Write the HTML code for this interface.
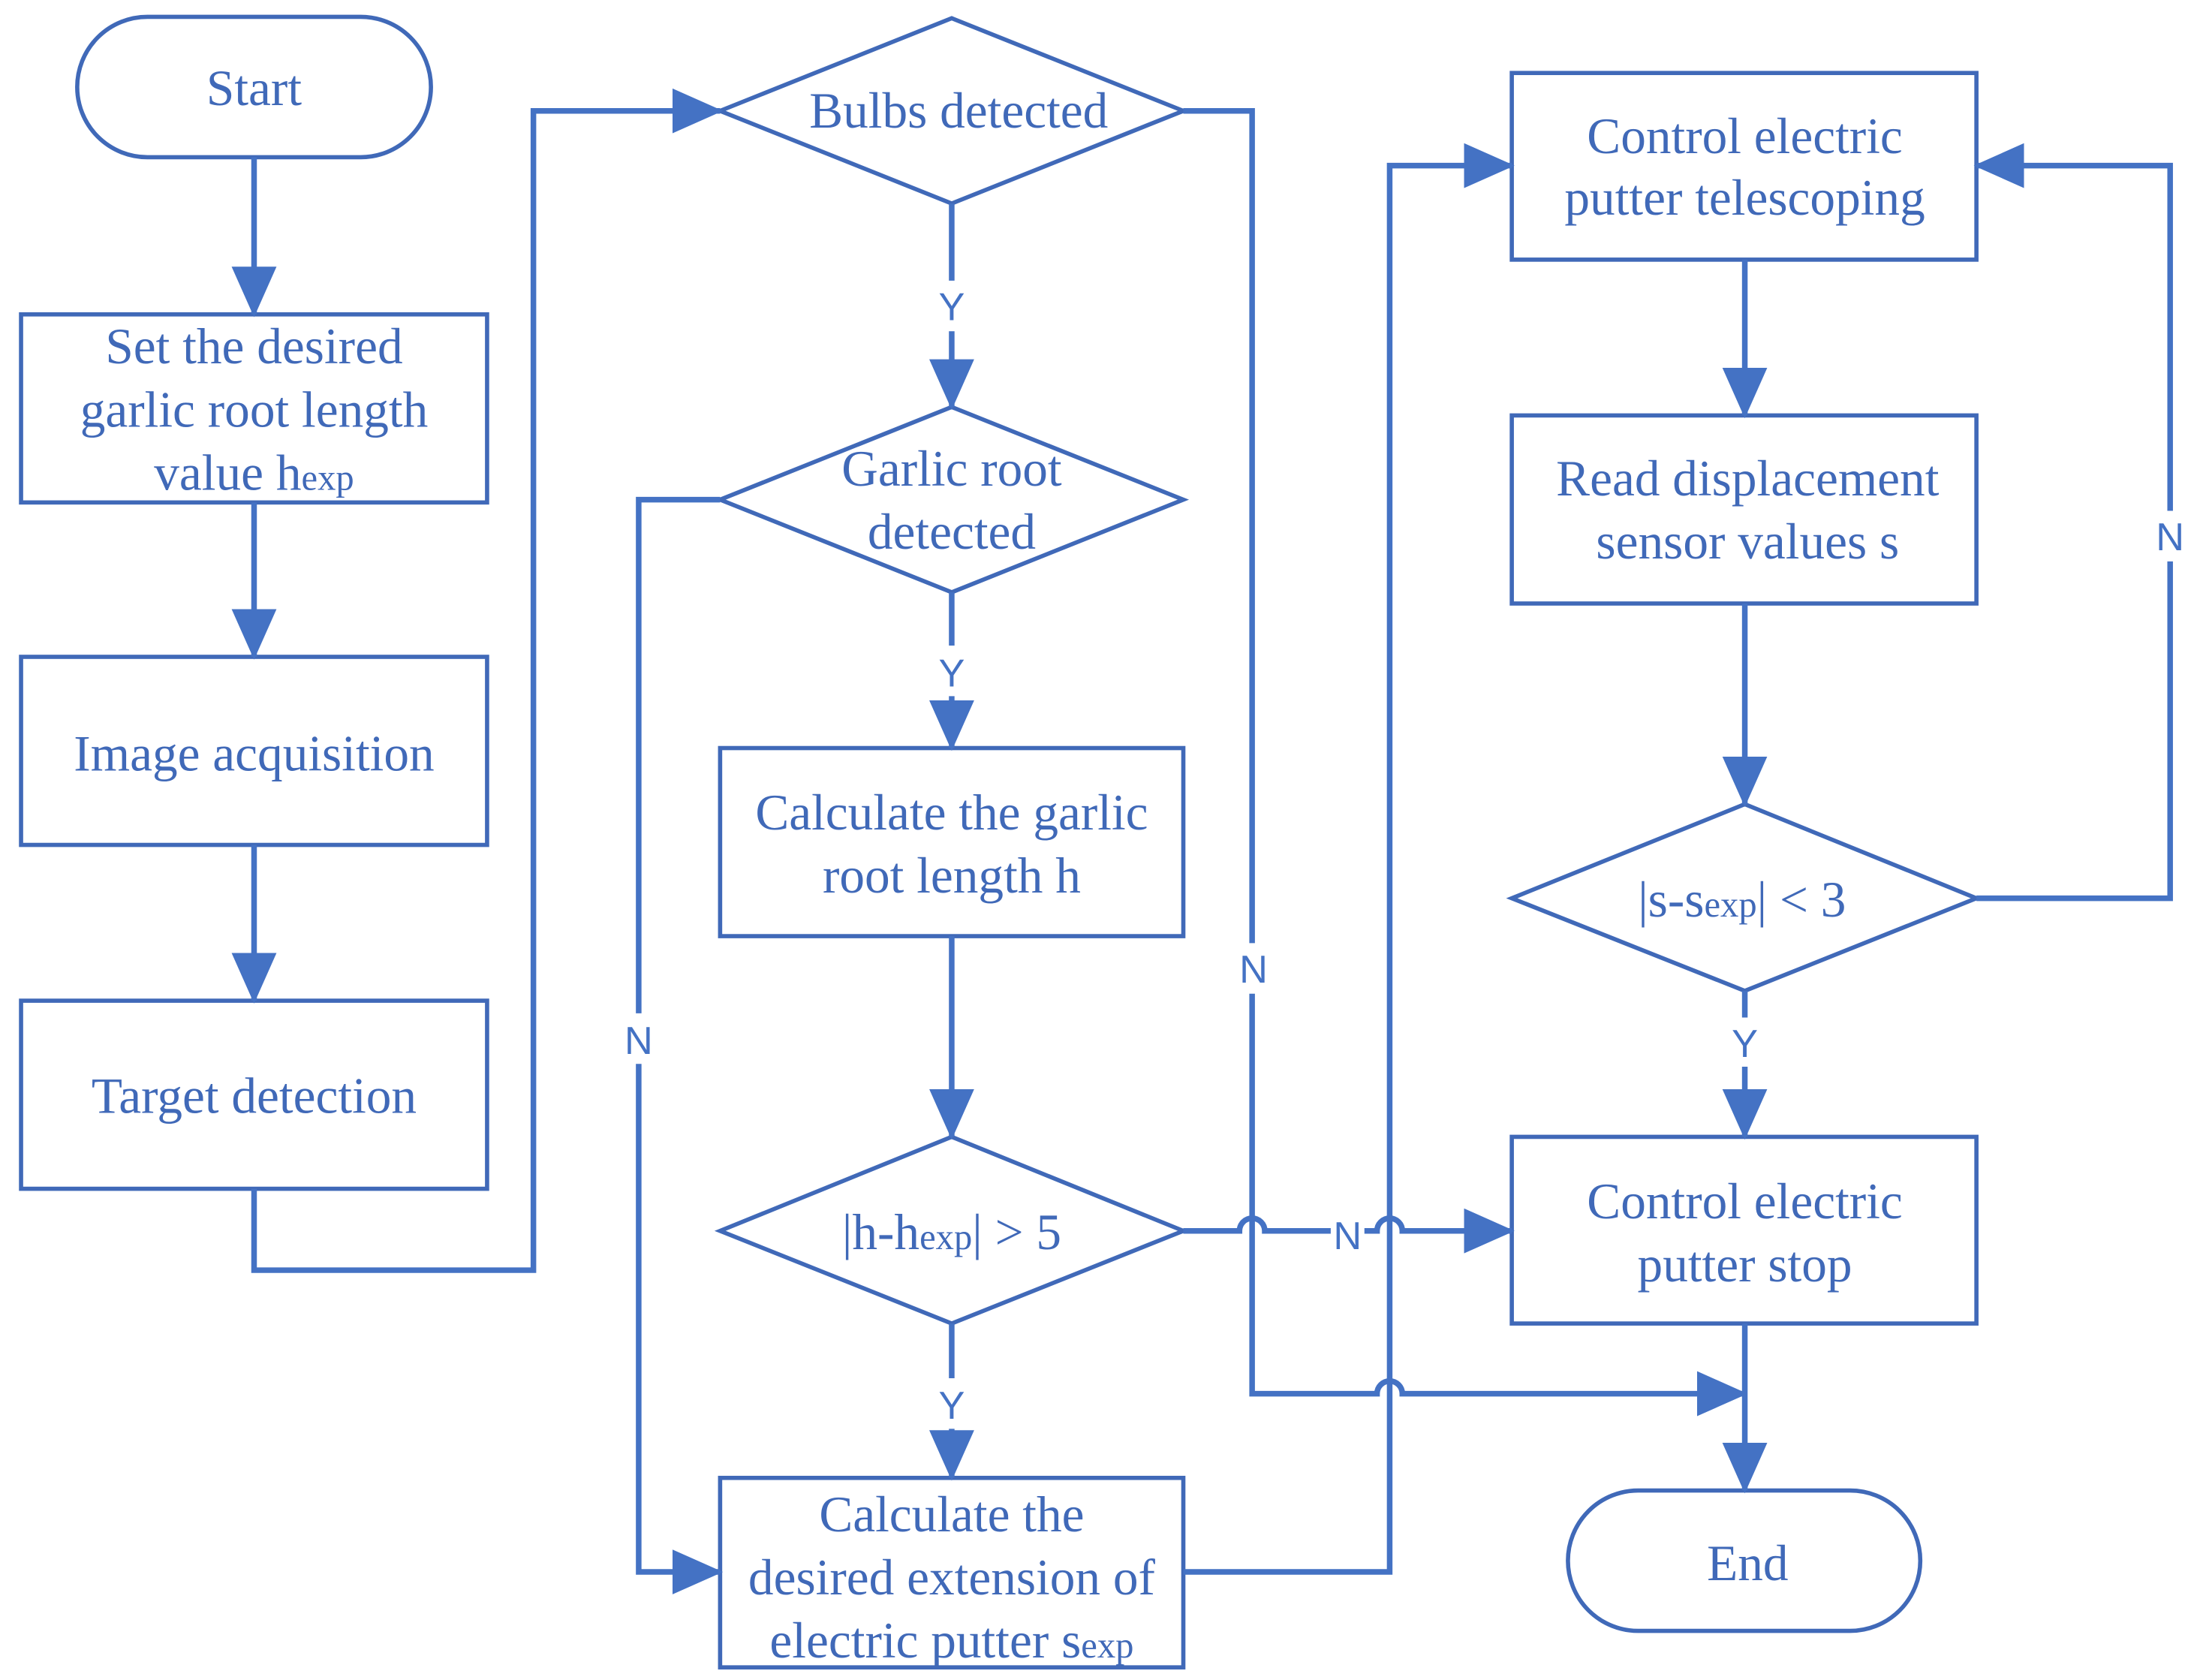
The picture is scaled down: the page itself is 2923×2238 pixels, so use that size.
<!DOCTYPE html>
<html><head><meta charset="utf-8"><style>
html,body{margin:0;padding:0;background:#fff;}
svg{display:block;}
text{font-family:"Liberation Serif",serif;fill:#4069B8;font-size:36px;text-anchor:middle;}
.s{font-family:"Liberation Sans",sans-serif;font-size:28px;fill:#4472C4;}
.sub{font-size:26px;}
</style></head><body>
<svg width="2923" height="2238" viewBox="0 0 1563 1197" preserveAspectRatio="none" xmlns="http://www.w3.org/2000/svg">
<defs>
<marker id="a" markerUnits="userSpaceOnUse" markerWidth="36" markerHeight="32" refX="34" refY="16" orient="auto">
<path d="M0,0 L36,16 L0,32 Z" fill="#4472C4"/>
</marker>
</defs>
<g fill="none" stroke="#4069B8" stroke-width="3">
<rect x="55" y="12" width="252" height="100" rx="50"/>
<rect x="15" y="224" width="332" height="134"/>
<rect x="15" y="468" width="332" height="134"/>
<rect x="15" y="713" width="332" height="134"/>
<polygon points="513,79 678,13 843,79 678,145"/>
<polygon points="513,356 678,290 843,356 678,422"/>
<rect x="513" y="533" width="330" height="134"/>
<polygon points="513,877 678,810 843,877 678,943"/>
<rect x="513" y="1053" width="330" height="135"/>
<rect x="1077" y="52" width="331" height="133"/>
<rect x="1077" y="296" width="331" height="134"/>
<polygon points="1077,640 1243,573 1408,640 1243,706"/>
<rect x="1077" y="810" width="331" height="133"/>
<rect x="1117" y="1062" width="251" height="100" rx="50"/>
</g>
<g fill="none" stroke="#4472C4" stroke-width="4">
<path d="M181,112 V224" marker-end="url(#a)"/>
<path d="M181,358 V468" marker-end="url(#a)"/>
<path d="M181,602 V713" marker-end="url(#a)"/>
<path d="M181,847 V905 H380 V79 H513" marker-end="url(#a)"/>
<path d="M678,145 V200 M678,236 V290" marker-end="url(#a)"/>
<path d="M678,422 V460 M678,496 V533" marker-end="url(#a)"/>
<path d="M678,667 V810" marker-end="url(#a)"/>
<path d="M678,943 V982 M678,1018 V1053" marker-end="url(#a)"/>
<path d="M513,356 H455 V722 M455,758 V1120 H513" marker-end="url(#a)"/>
<path d="M843,79 H892 V672 M892,708 V993 H981 A9,9 0 0 1 999,993 H1243" marker-end="url(#a)"/>
<path d="M843,877 H883 A9,9 0 0 1 901,877 H948 M972,877 H981 A9,9 0 0 1 999,877 H1077" marker-end="url(#a)"/>
<path d="M843,1120 H990 V118 H1077" marker-end="url(#a)"/>
<path d="M1243,185 V296" marker-end="url(#a)"/>
<path d="M1243,430 V573" marker-end="url(#a)"/>
<path d="M1408,640 H1546 V400 M1546,364 V118 H1408" marker-end="url(#a)"/>
<path d="M1243,706 V725 M1243,760 V810" marker-end="url(#a)"/>
<path d="M1243,943 V1062" marker-end="url(#a)"/>
</g>
<text x="181" y="75">Start</text>
<text x="181" y="259">Set the desired</text>
<text x="181" y="304">garlic root length</text>
<text x="181" y="349">value h<tspan class="sub">exp</tspan></text>
<text x="181" y="549">Image acquisition</text>
<text x="181" y="793">Target detection</text>
<text x="683" y="91">Bulbs detected</text>
<text x="678" y="346">Garlic root</text>
<text x="678" y="391">detected</text>
<text x="678" y="591">Calculate the garlic</text>
<text x="678" y="636">root length h</text>
<text x="678" y="890">|h-h<tspan class="sub">exp</tspan>| &gt; 5</text>
<text x="678" y="1091">Calculate the</text>
<text x="678" y="1136">desired extension of</text>
<text x="678" y="1181">electric putter s<tspan class="sub">exp</tspan></text>
<text x="1243" y="109">Control electric</text>
<text x="1243" y="153">putter telescoping</text>
<text x="1245" y="353">Read displacement</text>
<text x="1245" y="398">sensor values s</text>
<text x="1241" y="653">|s-s<tspan class="sub">exp</tspan>| &lt; 3</text>
<text x="1243" y="868">Control electric</text>
<text x="1243" y="913">putter stop</text>
<text x="1245" y="1126">End</text>
<text class="s" x="678" y="228">Y</text>
<text class="s" x="678" y="489">Y</text>
<text class="s" x="678" y="1011">Y</text>
<text class="s" x="1243" y="753">Y</text>
<text class="s" x="455" y="751">N</text>
<text class="s" x="893" y="700">N</text>
<text class="s" x="960" y="890">N</text>
<text class="s" x="1546" y="392">N</text>
</svg>
</body></html>
